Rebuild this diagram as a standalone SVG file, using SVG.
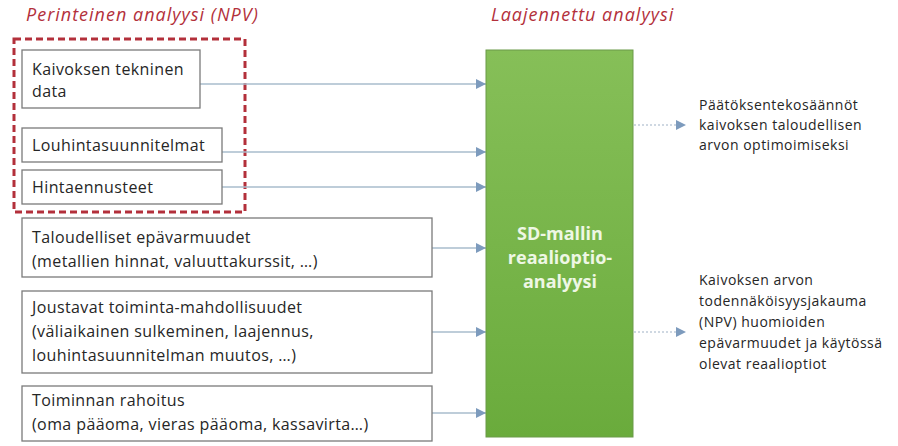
<svg xmlns="http://www.w3.org/2000/svg" width="898" height="446" viewBox="0 0 898 446">
<style>
.t{font-family:"Open Sans","Noto Sans",sans-serif;font-size:16px;letter-spacing:0.4px;fill:#262626}
.o{font-family:"Open Sans","Noto Sans",sans-serif;font-size:14px;letter-spacing:0.5px;fill:#262626}
.h{font-family:"Open Sans","Noto Sans",sans-serif;font-size:18px;letter-spacing:1px;font-style:italic;fill:#b3303b}
.box{fill:#fff;stroke:#7a7a7a;stroke-width:1.3}
.c{stroke:#a9bccd;stroke-width:1.3;fill:none}
.d{stroke:#9fb2c6;stroke-width:1.2;stroke-dasharray:2 2;fill:none}
.g{font-family:"Open Sans","Noto Sans",sans-serif;font-size:18px;font-weight:bold;fill:#eef7e4;text-anchor:middle}
</style>
<defs>
<marker id="ah" viewBox="0 0 10 10" refX="10" refY="5" markerWidth="10" markerHeight="10" markerUnits="userSpaceOnUse" orient="auto">
<path d="M0,0 L10,5 L0,10 z" fill="#7d9bbd"/>
</marker>
<linearGradient id="gg" x1="0" y1="0" x2="0" y2="1">
<stop offset="0" stop-color="#86bf58"/>
<stop offset="1" stop-color="#6aab3c"/>
</linearGradient>
</defs>
<text class="h" x="26" y="21">Perinteinen analyysi (NPV)</text>
<text class="h" x="491" y="21">Laajennettu analyysi</text>
<rect x="14" y="39" width="231" height="173" fill="none" stroke="#b3303b" stroke-width="3" stroke-dasharray="7 4"/>
<g id="connectors">
<line class="c" x1="200" y1="84" x2="486" y2="84" marker-end="url(#ah)"/>
<line class="c" x1="222" y1="152" x2="486" y2="152" marker-end="url(#ah)"/>
<line class="c" x1="222" y1="187" x2="486" y2="187" marker-end="url(#ah)"/>
<line class="c" x1="432" y1="248" x2="486" y2="248" marker-end="url(#ah)"/>
<line class="c" x1="432" y1="332" x2="486" y2="332" marker-end="url(#ah)"/>
<line class="c" x1="432" y1="413" x2="486" y2="413" marker-end="url(#ah)"/>
<line class="d" x1="634" y1="125" x2="686" y2="125" marker-end="url(#ah)"/>
<line class="d" x1="634" y1="332" x2="686" y2="332" marker-end="url(#ah)"/>
</g>
<g id="n1"><rect class="box" x="22" y="50" width="178" height="58"/>
<text class="t" x="32" y="75">Kaivoksen tekninen</text><text class="t" x="32" y="97">data</text></g>
<g id="n2"><rect class="box" x="22" y="128" width="200" height="34"/>
<text class="t" x="32" y="151">Louhintasuunnitelmat</text></g>
<g id="n3"><rect class="box" x="22" y="170" width="200" height="34"/>
<text class="t" x="32" y="193">Hintaennusteet</text></g>
<g id="n4"><rect class="box" x="22" y="218" width="410" height="59"/>
<text class="t" x="32" y="243">Taloudelliset epävarmuudet</text><text class="t" x="32" y="267">(metallien hinnat, valuuttakurssit, …)</text></g>
<g id="n5"><rect class="box" x="22" y="291" width="410" height="82"/>
<text class="t" x="32" y="313">Joustavat toiminta-mahdollisuudet</text><text class="t" x="32" y="337">(väliaikainen sulkeminen, laajennus,</text><text class="t" x="32" y="361">louhintasuunnitelman muutos, …)</text></g>
<g id="n6"><rect class="box" x="22" y="386" width="410" height="55"/>
<text class="t" x="32" y="406">Toiminnan rahoitus</text><text class="t" x="32" y="430">(oma pääoma, vieras pääoma, kassavirta…)</text></g>
<g id="sd"><rect x="486" y="50" width="147" height="387" fill="url(#gg)" stroke="#6b9a48" stroke-width="1"/>
<text class="g" x="560" y="240">SD-mallin</text><text class="g" x="560" y="264">reaalioptio-</text><text class="g" x="560" y="288">analyysi</text></g>
<g id="out1"><text class="o" x="699" y="110">Päätöksentekosäännöt</text><text class="o" x="699" y="130">kaivoksen taloudellisen</text><text class="o" x="699" y="150">arvon optimoimiseksi</text></g>
<g id="out2"><text class="o" x="699" y="285">Kaivoksen arvon</text><text class="o" x="699" y="306">todennäköisyysjakauma</text><text class="o" x="699" y="327">(NPV) huomioiden</text><text class="o" x="699" y="348">epävarmuudet ja käytössä</text><text class="o" x="699" y="369">olevat reaalioptiot</text></g>
</svg>
